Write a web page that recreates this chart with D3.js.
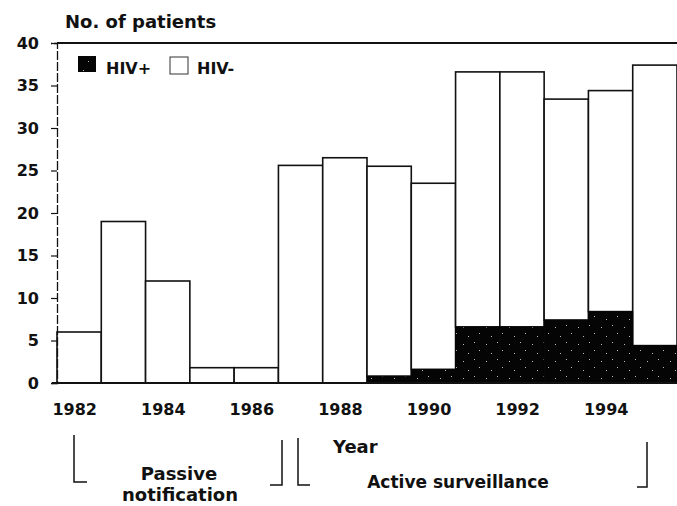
<!DOCTYPE html>
<html>
<head>
<meta charset="utf-8">
<script src="https://cdn.jsdelivr.net/npm/d3@7"></script>
<style>
  body { margin: 0; background: #fff; }
  svg text { font-family: "DejaVu Sans", sans-serif; font-weight: bold; fill: #111; }
</style>
</head>
<body>
<svg width="677" height="506"></svg>
<script>
// Data
var years = [1982, 1983, 1984, 1985, 1986, 1987, 1988, 1989, 1990, 1991, 1992, 1993, 1994, 1995];
var hivPos = [0, 0, 0, 0, 0, 0, 0, 0.8, 1.6, 6.6, 6.6, 7.4, 8.4, 4.4];
var hivNeg = [6, 19, 12, 1.8, 1.8, 25.6, 26.5, 24.7, 21.9, 30, 30, 26, 26, 33];
var yTicks = [0, 5, 10, 15, 20, 25, 30, 35, 40];
var xLabelYears = [1982, 1984, 1986, 1988, 1990, 1992, 1994];

var svg = d3.select('svg');

// speckled black fill for HIV+ like the print
var defs = svg.append('defs');
var pat = defs.append('pattern')
    .attr('id', 'speck')
    .attr('patternUnits', 'userSpaceOnUse')
    .attr('width', 23).attr('height', 17);
pat.append('rect').attr('width', 23).attr('height', 17).attr('fill', '#050505');
[[3, 4], [14, 2], [19, 10], [8, 13]].forEach(function(p) {
    pat.append('rect').attr('x', p[0]).attr('y', p[1])
        .attr('width', 1).attr('height', 1).attr('fill', '#bbb');
});

var x = d3.scaleLinear().domain([1982, 1996]).range([57, 677]);
var y = d3.scaleLinear().domain([0, 40]).range([383, 43]);

var table = years.map(function(yr, i) {
    return {year: yr, pos: hivPos[i], neg: hivNeg[i]};
});
var stacked = d3.stack().keys(['pos', 'neg'])(table);

var barsG = svg.append('g');
barsG.selectAll('.neg')
    .data(stacked[1])
    .enter().append('rect')
    .attr('class', 'neg')
    .attr('x', function(d) { return x(d.data.year); })
    .attr('width', function(d) { return x(d.data.year + 1) - x(d.data.year); })
    .attr('y', function(d) { return y(d[1]); })
    .attr('height', function(d) { return y(d[0]) - y(d[1]); })
    .attr('fill', '#fff')
    .attr('stroke', '#111')
    .attr('stroke-width', 1.6);

barsG.selectAll('.pos')
    .data(stacked[0].filter(function(d) { return d[1] > 0; }))
    .enter().append('rect')
    .attr('class', 'pos')
    .attr('x', function(d) { return x(d.data.year); })
    .attr('width', function(d) { return x(d.data.year + 1) - x(d.data.year); })
    .attr('y', function(d) { return y(d[1]); })
    .attr('height', function(d) { return y(d[0]) - y(d[1]); })
    .attr('fill', 'url(#speck)')
    .attr('stroke', '#050505')
    .attr('stroke-width', 1);

// baseline and top frame line
svg.append('line')
    .attr('x1', 52).attr('x2', 677)
    .attr('y1', y(0)).attr('y2', y(0))
    .attr('stroke', '#111').attr('stroke-width', 2);
svg.append('line')
    .attr('x1', 57).attr('x2', 677)
    .attr('y1', y(40)).attr('y2', y(40))
    .attr('stroke', '#111').attr('stroke-width', 1.8);

// y axis
var yAxis = d3.axisLeft(y)
    .tickValues(yTicks)
    .tickSize(6)
    .tickPadding(12);
var yG = svg.append('g')
    .attr('transform', 'translate(57,0)')
    .call(yAxis);
yG.select('.domain').attr('stroke', '#111').attr('stroke-width', 1.3)
    .attr('stroke-dasharray', '9,2');
yG.selectAll('.tick line').attr('stroke', '#111').attr('stroke-width', 1.2);
yG.selectAll('.tick text')
    .style('font-family', '"DejaVu Sans", sans-serif')
    .style('font-weight', 'bold')
    .style('font-size', '16px')
    .attr('fill', '#111');

// x labels
svg.selectAll('.xlab')
    .data(xLabelYears)
    .enter().append('text')
    .attr('class', 'xlab')
    .attr('x', function(d) { return x(d + 0.4); })
    .attr('y', 415)
    .attr('text-anchor', 'middle')
    .style('font-size', '16px')
    .text(function(d) { return d; });

// title
svg.append('text')
    .attr('x', 65).attr('y', 28)
    .style('font-size', '18px')
    .text('No. of patients');

// legend
svg.append('rect')
    .attr('x', 78).attr('y', 56).attr('width', 18).attr('height', 16)
    .attr('fill', 'url(#speck)');
svg.append('text')
    .attr('x', 106).attr('y', 74)
    .style('font-size', '16px')
    .text('HIV+');
svg.append('rect')
    .attr('x', 170).attr('y', 57).attr('width', 18).attr('height', 17)
    .attr('fill', '#fff').attr('stroke', '#333').attr('stroke-width', 1);
svg.append('text')
    .attr('x', 197).attr('y', 74)
    .style('font-size', '16px')
    .text('HIV-');

// bottom annotations
svg.append('text')
    .attr('x', 333).attr('y', 453)
    .style('font-size', '18px')
    .text('Year');
svg.append('text')
    .attr('x', 179).attr('y', 480)
    .attr('text-anchor', 'middle')
    .style('font-size', '18px')
    .text('Passive');
svg.append('text')
    .attr('x', 180).attr('y', 501)
    .attr('text-anchor', 'middle')
    .style('font-size', '18px')
    .text('notification');
svg.append('text')
    .attr('x', 458).attr('y', 488)
    .attr('text-anchor', 'middle')
    .style('font-size', '17px')
    .text('Active surveillance');

var brackets = [
    'M74,435V482H87',
    'M270,485H282V440',
    'M298,438V485H310',
    'M637,487H647V442'
];
svg.selectAll('.bracket')
    .data(brackets)
    .enter().append('path')
    .attr('class', 'bracket')
    .attr('d', function(d) { return d; })
    .attr('fill', 'none')
    .attr('stroke', '#111')
    .attr('stroke-width', 1.5);
</script>
</body>
</html>
